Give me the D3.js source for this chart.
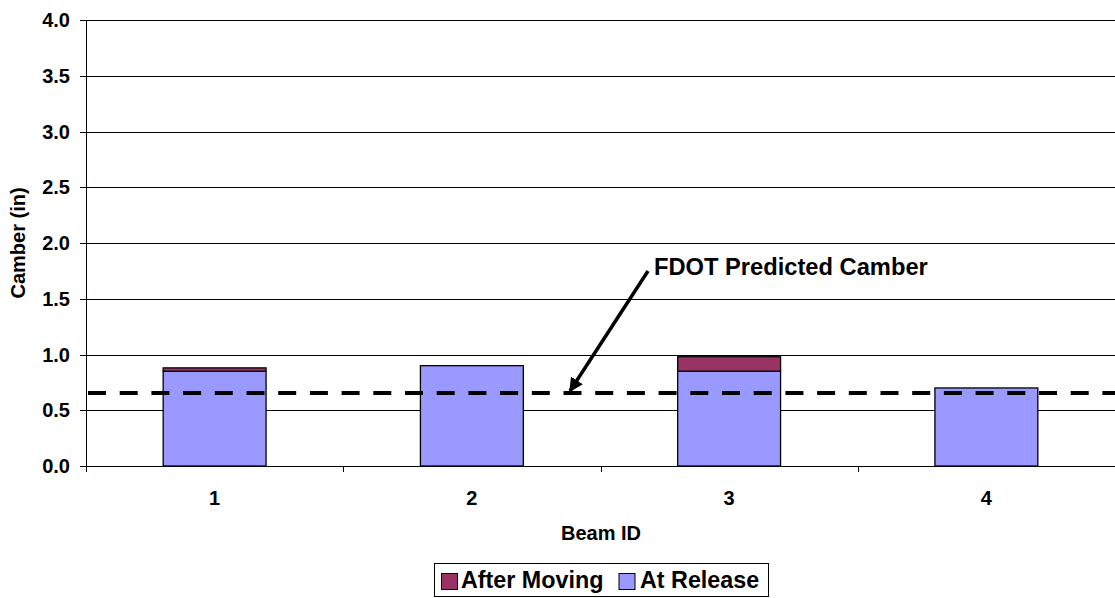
<!DOCTYPE html>
<html>
<head>
<meta charset="utf-8">
<script src="https://cdn.jsdelivr.net/npm/d3@7"></script>
<style>
  html, body { margin: 0; padding: 0; background: #fff; }
  svg { display: block; }
  text { font-family: Arial, "Liberation Sans", Helvetica, sans-serif; font-weight: bold; fill: #000; }
</style>
</head>
<body>
<svg id="chart" width="1115" height="598"></svg>
<script>
// Beam camber measurements (inches)
const beams = ["1", "2", "3", "4"];
const atRelease = [0.85, 0.90, 0.85, 0.70];
const afterMoving = [0.03, 0.00, 0.13, 0.00];
const predictedCamber = 0.655;
const yTicks = [0, 0.5, 1.0, 1.5, 2.0, 2.5, 3.0, 3.5, 4.0];
const seriesNames = ["After Moving", "At Release"];
const seriesColors = ["#993366", "#9999FF"];

const svg = d3.select("#chart");
const plot = { left: 86, right: 1115, top: 20, bottom: 466 };

const x = d3.scaleBand()
  .domain(beams)
  .range([plot.left, plot.right])
  .paddingInner(0.6)
  .paddingOuter(0.3);

const y = d3.scaleLinear()
  .domain([0, 4])
  .range([plot.bottom, plot.top]);

// horizontal gridlines
svg.append("g")
  .selectAll("line")
  .data(yTicks.filter(d => d > 0))
  .join("line")
  .attr("x1", plot.left).attr("x2", plot.right)
  .attr("y1", d => Math.round(y(d)) + 0.5).attr("y2", d => Math.round(y(d)) + 0.5)
  .attr("stroke", "#000").attr("stroke-width", 1);

// stacked bars
const rows = beams.map((b, i) => ({ beam: b, release: atRelease[i], moving: afterMoving[i] }));
const bars = svg.append("g");
bars.selectAll("rect.release")
  .data(rows)
  .join("rect")
  .attr("class", "release")
  .attr("x", d => x(d.beam))
  .attr("width", x.bandwidth())
  .attr("y", d => y(d.release))
  .attr("height", d => y(0) - y(d.release))
  .attr("fill", seriesColors[1])
  .attr("stroke", "#000").attr("stroke-width", 1.3);
bars.selectAll("rect.moving")
  .data(rows.filter(d => d.moving > 0))
  .join("rect")
  .attr("class", "moving")
  .attr("x", d => x(d.beam))
  .attr("width", x.bandwidth())
  .attr("y", d => y(d.release + d.moving))
  .attr("height", d => y(d.release) - y(d.release + d.moving))
  .attr("fill", seriesColors[0])
  .attr("stroke", "#000").attr("stroke-width", 1.3);

// axes
const yAxis = svg.append("g");
yAxis.append("line")
  .attr("x1", plot.left + 0.5).attr("x2", plot.left + 0.5)
  .attr("y1", plot.top).attr("y2", plot.bottom + 6)
  .attr("stroke", "#000");
yAxis.selectAll("line.tick")
  .data(yTicks)
  .join("line")
  .attr("class", "tick")
  .attr("x1", plot.left - 6).attr("x2", plot.left)
  .attr("y1", d => Math.round(y(d)) + 0.5).attr("y2", d => Math.round(y(d)) + 0.5)
  .attr("stroke", "#000");
yAxis.selectAll("text")
  .data(yTicks)
  .join("text")
  .attr("x", 70)
  .attr("y", d => y(d))
  .attr("dy", "0.36em")
  .attr("text-anchor", "end")
  .attr("font-size", 20)
  .text(d => d.toFixed(1));

const xAxis = svg.append("g");
xAxis.append("line")
  .attr("x1", plot.left).attr("x2", plot.right)
  .attr("y1", plot.bottom + 0.5).attr("y2", plot.bottom + 0.5)
  .attr("stroke", "#000");
const bounds = beams.map(b => x(b) - x.step() * x.paddingOuter()).slice(1);
xAxis.selectAll("line.tick")
  .data(bounds)
  .join("line")
  .attr("class", "tick")
  .attr("x1", d => Math.round(d) + 0.5).attr("x2", d => Math.round(d) + 0.5)
  .attr("y1", plot.bottom).attr("y2", plot.bottom + 6)
  .attr("stroke", "#000");
xAxis.selectAll("text")
  .data(beams)
  .join("text")
  .attr("x", d => x(d) + x.bandwidth() / 2)
  .attr("y", 505)
  .attr("text-anchor", "middle")
  .attr("font-size", 20)
  .text(d => d);

// axis titles
svg.append("text")
  .attr("x", 601).attr("y", 540)
  .attr("text-anchor", "middle")
  .attr("font-size", 20)
  .text("Beam ID");
svg.append("text")
  .attr("transform", "translate(25,243) rotate(-90)")
  .attr("text-anchor", "middle")
  .attr("font-size", 20)
  .text("Camber (in)");

// predicted camber reference line
svg.append("line")
  .attr("x1", plot.left + 2).attr("x2", plot.right)
  .attr("y1", y(predictedCamber)).attr("y2", y(predictedCamber))
  .attr("stroke", "#000")
  .attr("stroke-width", 4)
  .attr("stroke-dasharray", "18,13.7");

// callout with arrow
svg.append("defs").append("marker")
  .attr("id", "arrowhead")
  .attr("viewBox", "0 0 10 10")
  .attr("refX", 9).attr("refY", 5)
  .attr("markerWidth", 4).attr("markerHeight", 4)
  .attr("markerUnits", "strokeWidth")
  .attr("orient", "auto")
  .append("path")
  .attr("d", "M0,0 L10,5 L0,10 Z")
  .attr("fill", "#000");
svg.append("line")
  .attr("x1", 648).attr("y1", 271)
  .attr("x2", 570).attr("y2", y(predictedCamber) - 2)
  .attr("stroke", "#000")
  .attr("stroke-width", 3.5)
  .attr("marker-end", "url(#arrowhead)");
svg.append("text")
  .attr("x", 654).attr("y", 275)
  .attr("font-size", 23.7)
  .text("FDOT Predicted Camber");

// legend
const legend = svg.append("g");
legend.append("rect")
  .attr("x", 434.5).attr("y", 563.5)
  .attr("width", 334).attr("height", 33)
  .attr("fill", "#fff").attr("stroke", "#000");
const legendItems = [
  { name: seriesNames[0], color: seriesColors[0], sx: 441, tx: 461 },
  { name: seriesNames[1], color: seriesColors[1], sx: 618.5, tx: 640 }
];
legend.selectAll("rect.swatch")
  .data(legendItems)
  .join("rect")
  .attr("class", "swatch")
  .attr("x", d => d.sx + 0.5).attr("y", 573.5)
  .attr("width", 16).attr("height", 16)
  .attr("fill", d => d.color).attr("stroke", "#000");
legend.selectAll("text")
  .data(legendItems)
  .join("text")
  .attr("x", d => d.tx).attr("y", 588)
  .attr("font-size", 23.3)
  .text(d => d.name);
</script>
</body>
</html>
